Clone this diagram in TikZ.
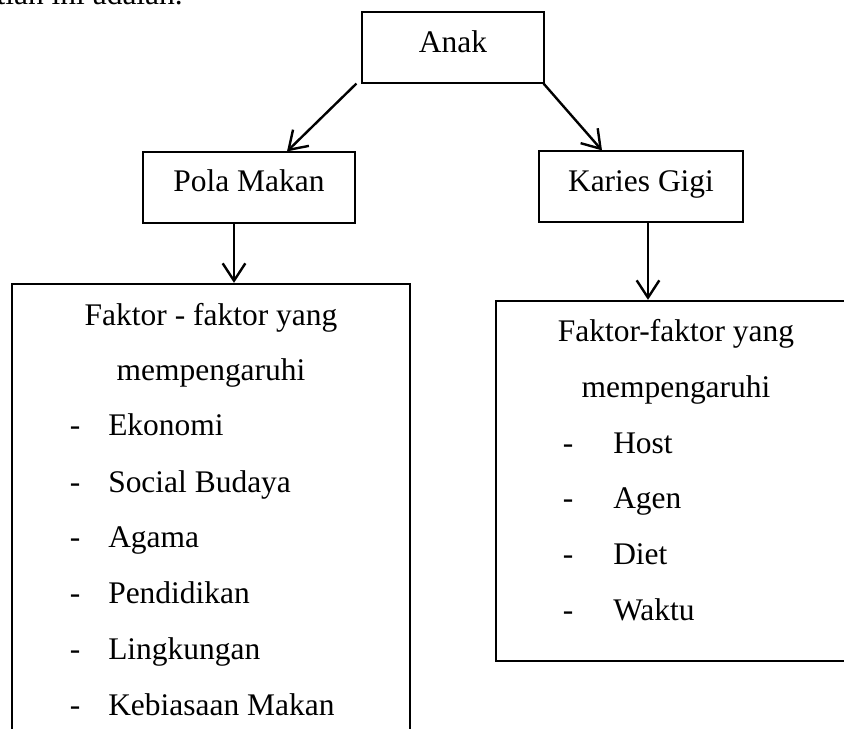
\documentclass[tikz,border=0pt]{standalone}
\usepackage{fontspec}
\setmainfont{Liberation Serif}
\usetikzlibrary{arrows.meta,calc}
\newcommand{\diagfs}{\fontsize{23.6pt}{28pt}\selectfont}
\tikzset{
  box/.style={draw, line width=0.9pt, rectangle, inner sep=0pt},
  bigbox/.style={draw, line width=1.7pt, rectangle, inner sep=0pt},
  lbl/.style={inner sep=0pt, font=\diagfs},
  arr/.style={line width=1.8pt, -{Straight Barb[length=13pt,width=17pt,line width=1.8pt]}}
}
\begin{document}
\begin{tikzpicture}[x=0.75pt,y=-0.75pt]
\useasboundingbox (0,0) rectangle (844,729);
% fragment of the preceding text line
\node[lbl, anchor=base east] (intro) at (183,4) {penelitian ini adalah.};
% boxes
\node[box, minimum width=136.5pt, minimum height=53.25pt] (anak) at (453,47.5) {};
\node[box, minimum width=159pt, minimum height=53.25pt] (pola) at (249,187.5) {};
\node[box, minimum width=153pt, minimum height=53.25pt] (karies) at (641,186.5) {};
\node[bigbox, minimum width=298.5pt, minimum height=372pt] (fakL) at (211,532) {};
\node[bigbox, minimum width=270pt, minimum height=270pt] (fakR) at (676,481) {};
% box texts
\node[lbl, anchor=base] (tanak) at (453,52) {Anak};
\node[lbl, anchor=base] (tpola) at (249,191) {Pola Makan};
\node[lbl, anchor=base] (tkaries) at (641,191) {Karies Gigi};
% left factors
\node[lbl, anchor=base] (lh1) at (211,325) {Faktor - faktor yang};
\node[lbl, anchor=base] (lh2) at (211,380) {mempengaruhi};
\foreach \t/\y [count=\i] in {Ekonomi/435, Social Budaya/492, Agama/547, Pendidikan/603, Lingkungan/659, Kebiasaan Makan/715}{
  \node[lbl, anchor=base] (ld\i) at (75,\y) {-};
  \node[lbl, anchor=base west] (li\i) at (108,\y) {\t};
}
% right factors
\node[lbl, anchor=base] (rh1) at (676,341) {Faktor-faktor yang};
\node[lbl, anchor=base] (rh2) at (676,397) {mempengaruhi};
\foreach \t/\y [count=\i] in {Host/453, Agen/508, Diet/564, Waktu/620}{
  \node[lbl, anchor=base] (rd\i) at (568,\y) {-};
  \node[lbl, anchor=base west] (ri\i) at (613,\y) {\t};
}
% connectors
\draw[arr] ($(anak.south west)+(-5,0)$) -- ($(pola.north)+(38,0)$);
\draw[arr] ($(anak.south east)+(-1,0)$) -- ($(karies.north)+(-39,0)$);
\draw[arr] ($(pola.south)+(-15,0)$) coordinate (p1) -- (p1 |- fakL.north);
\draw[arr] ($(karies.south)+(7,0)$) coordinate (k1) -- (k1 |- fakR.north);
\end{tikzpicture}
\end{document}
